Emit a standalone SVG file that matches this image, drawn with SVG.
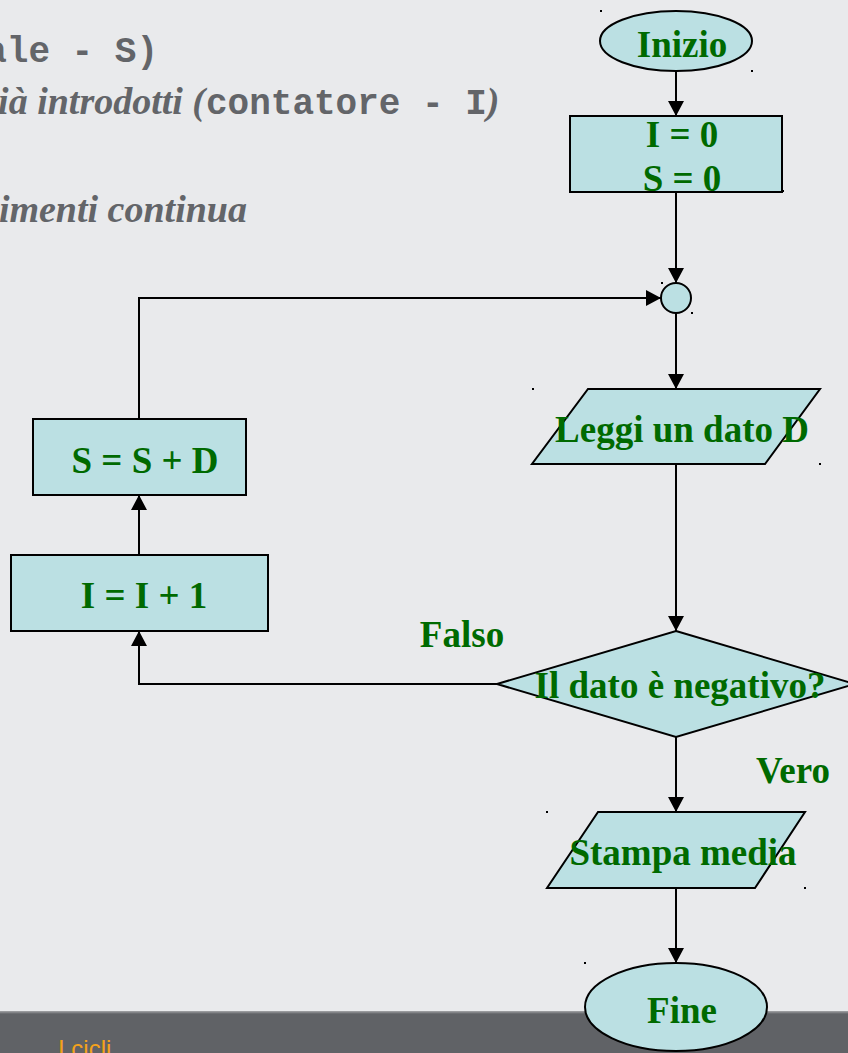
<svg xmlns="http://www.w3.org/2000/svg" width="848" height="1053" viewBox="0 0 848 1053">
<defs>
<marker id="arr" viewBox="0 0 15 16" refX="15" refY="8" markerWidth="15" markerHeight="16" markerUnits="userSpaceOnUse" orient="auto">
<path d="M0,0 L15,8 L0,16 z" fill="#000"/>
</marker>
<linearGradient id="bar" x1="0" y1="0" x2="0" y2="1">
<stop offset="0" stop-color="#a4a5a8"/>
<stop offset="1" stop-color="#606266"/>
</linearGradient>
<style>
.shape{fill:#bbe0e3;stroke:#000;stroke-width:2}
.lbl{font-family:"Liberation Serif","Times New Roman",serif;font-weight:bold;font-size:37px;fill:#006a00;text-anchor:middle}
.conn{fill:none;stroke:#000;stroke-width:2}
.mono{font-family:"Liberation Mono","Courier New",monospace;font-weight:bold;font-size:36px;fill:#636569}
.ital{font-family:"Liberation Serif","Times New Roman",serif;font-style:italic;font-weight:bold;font-size:38px;fill:#636569}
.dot{fill:#000}
</style>
</defs>
<rect x="0" y="0" width="848" height="1053" fill="#e9eaec"/>
<rect x="0" y="1011" width="848" height="3" fill="url(#bar)"/>
<rect x="0" y="1014" width="848" height="39" fill="#606266"/>
<text x="58" y="1057" font-family="'Liberation Sans',Arial,sans-serif" font-size="24" fill="#f5a21b">I cicli</text>

<g id="background-text">
<text class="mono" x="158" y="62" text-anchor="end">ale - S)</text>
<text class="ital" x="205" y="114" text-anchor="end">ià introdotti (</text>
<text y="114"><tspan class="mono" x="206">contatore - I</tspan><tspan class="ital">)</tspan></text>
<text class="ital" x="247" y="222" text-anchor="end">imenti continua</text>
</g>

<g id="connectors">
<line class="conn" x1="676" y1="71" x2="676" y2="116" marker-end="url(#arr)"/>
<line class="conn" x1="676" y1="192" x2="676" y2="283" marker-end="url(#arr)"/>
<line class="conn" x1="676" y1="313" x2="676" y2="389" marker-end="url(#arr)"/>
<line class="conn" x1="676" y1="464" x2="676" y2="631" marker-end="url(#arr)"/>
<line class="conn" x1="676" y1="737" x2="676" y2="812" marker-end="url(#arr)"/>
<line class="conn" x1="676" y1="888" x2="676" y2="963" marker-end="url(#arr)"/>
<polyline class="conn" points="497,684 139,684 139,631" marker-end="url(#arr)"/>
<line class="conn" x1="139" y1="555" x2="139" y2="495" marker-end="url(#arr)"/>
<polyline class="conn" points="139,419 139,298 661,298" marker-end="url(#arr)"/>
</g>

<g id="inizio">
<ellipse class="shape" cx="676" cy="41" rx="76" ry="30"/>
<text class="lbl" x="682" y="57">Inizio</text>
</g>
<g id="init">
<rect class="shape" x="570" y="116" width="212" height="76"/>
<text class="lbl" x="682" y="147">I = 0</text>
<text class="lbl" x="682" y="191">S = 0</text>
</g>
<g id="join">
<circle class="shape" cx="676" cy="298" r="15"/>
</g>
<g id="leggi">
<polygon class="shape" points="588,389 820,389 765,464 532,464"/>
<text class="lbl" x="682" y="442">Leggi un dato D</text>
</g>
<g id="decisione">
<polygon class="shape" points="676,631 855,684 676,737 497,684"/>
<text class="lbl" x="680" y="698">Il dato è negativo?</text>
</g>
<g id="somma">
<rect class="shape" x="33" y="419" width="213" height="76"/>
<text class="lbl" x="145" y="473">S = S + D</text>
</g>
<g id="incremento">
<rect class="shape" x="11" y="555" width="257" height="76"/>
<text class="lbl" x="144" y="608">I = I + 1</text>
</g>
<g id="stampa">
<polygon class="shape" points="598,812 805,812 755,888 547,888"/>
<text class="lbl" x="683" y="865">Stampa media</text>
</g>
<g id="fine">
<ellipse class="shape" cx="676" cy="1007" rx="91" ry="44"/>
<text class="lbl" x="682" y="1023">Fine</text>
</g>
<g id="labels">
<text class="lbl" x="462" y="647">Falso</text>
<text class="lbl" x="793" y="783">Vero</text>
</g>
<g id="marks">
<rect class="dot" x="600" y="10" width="2" height="2"/>
<rect class="dot" x="751" y="70" width="2" height="2"/>
<rect class="dot" x="782" y="190" width="2" height="2"/>
<rect class="dot" x="661" y="282" width="2" height="2"/>
<rect class="dot" x="691" y="312" width="2" height="2"/>
<rect class="dot" x="532" y="388" width="2" height="2"/>
<rect class="dot" x="819" y="463" width="2" height="2"/>
<rect class="dot" x="546" y="811" width="2" height="2"/>
<rect class="dot" x="804" y="887" width="2" height="2"/>
<rect class="dot" x="584" y="962" width="2" height="2"/>
</g>
</svg>
